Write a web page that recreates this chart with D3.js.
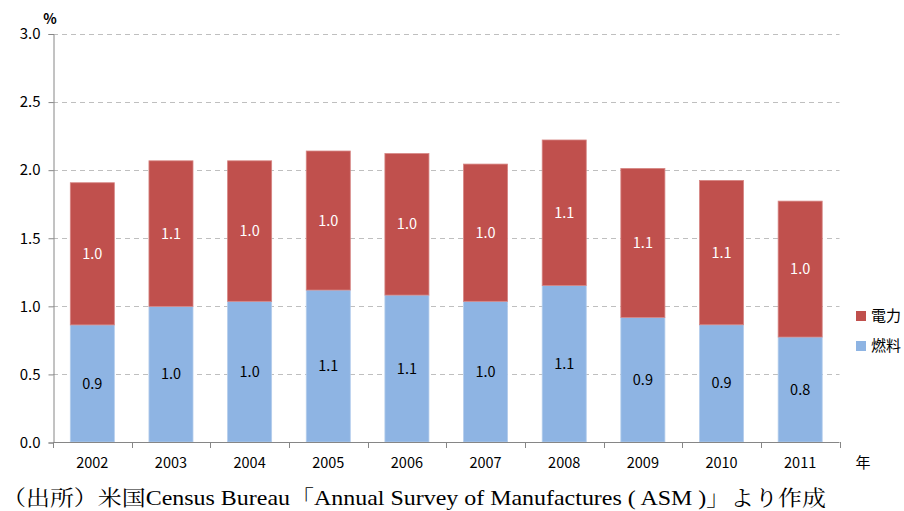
<!DOCTYPE html>
<html><head><meta charset="utf-8">
<script src="https://cdn.jsdelivr.net/npm/d3@7"></script>
<style>
body{margin:0;background:#fff;}
svg{display:block;}
</style></head>
<body>
<svg id="chart" width="904" height="511"></svg>
<script>
const years = ["2002","2003","2004","2005","2006","2007","2008","2009","2010","2011"];
const fuel = [0.86, 0.996, 1.033, 1.116, 1.079, 1.033, 1.149, 0.915, 0.861, 0.771];
const power = [1.044, 1.069, 1.032, 1.021, 1.039, 1.008, 1.069, 1.094, 1.060, 0.998];
const yTicks = [0, 0.5, 1.0, 1.5, 2.0, 2.5, 3.0];
const seriesNames = ["燃料", "電力"];
const colors = ["#8EB4E3", "#C0504D"];
const strokeColors = ["#B4CDEC", "#D68583"];
const labelColors = ["#000", "#fff"];

const svg = d3.select("#chart");
const fontJP = "'Noto Sans CJK JP','Noto Sans',sans-serif";
const margin = {left: 53, right: 64.5, top: 33.5, bottom: 69};
const W = 904, H = 511;
const x = d3.scaleBand().domain(years).range([margin.left, W - margin.right]).paddingInner(0.44).paddingOuter(0.22);
const y = d3.scaleLinear().domain([0, 3]).range([H - margin.bottom, margin.top]);

// grid lines
svg.append("g").selectAll("line").data(yTicks.filter(d => d > 0)).join("line")
  .attr("x1", margin.left).attr("x2", W - margin.right)
  .attr("y1", d => Math.round(y(d)) + 0.5).attr("y2", d => Math.round(y(d)) + 0.5)
  .attr("stroke", "#BFBFBF").attr("stroke-width", 1).attr("stroke-dasharray", "5,4");

// stacked data
const rows = years.map((yr, i) => ({year: yr, fuel: fuel[i], power: power[i]}));
const stack = d3.stack().keys(["fuel", "power"])(rows);

const g = svg.append("g");
stack.forEach((layer, li) => {
  g.append("g").selectAll("rect").data(layer).join("rect")
    .attr("x", d => x(d.data.year))
    .attr("width", x.bandwidth())
    .attr("y", d => y(d[1]))
    .attr("height", d => y(d[0]) - y(d[1]))
    .attr("fill", colors[li])
    .attr("stroke", strokeColors[li]).attr("stroke-width", 0.8);
  g.append("g").selectAll("text").data(layer).join("text")
    .attr("x", d => x(d.data.year) + x.bandwidth() / 2)
    .attr("y", d => (y(d[0]) + y(d[1])) / 2)
    .attr("dy", "0.35em")
    .attr("text-anchor", "middle")
    .attr("font-family", fontJP)
    .attr("font-size", 14.5)
    .attr("fill", labelColors[li])
    .text(d => d3.format(".1f")(d[1] - d[0]));
});

// y axis
const yAxis = d3.axisLeft(y).tickValues(yTicks).tickFormat(d3.format(".1f")).tickSize(5).tickPadding(8);
const ya = svg.append("g").attr("transform", `translate(${margin.left + 0.5},0.5)`).call(yAxis);
ya.select(".domain").attr("stroke", "#868686");
ya.selectAll(".tick line").attr("stroke", "#868686");
ya.selectAll(".tick text").attr("font-family", fontJP).attr("font-size", 15).attr("fill", "#000");

// x axis
const xBase = y(0);
svg.append("line").attr("x1", margin.left).attr("x2", W - margin.right)
  .attr("y1", xBase + 0.5).attr("y2", xBase + 0.5).attr("stroke", "#868686");
const bounds = d3.range(years.length + 1).map(i => margin.left + i * (W - margin.right - margin.left) / years.length);
svg.append("g").selectAll("line").data(bounds).join("line")
  .attr("x1", d => Math.round(d) + 0.5).attr("x2", d => Math.round(d) + 0.5)
  .attr("y1", xBase).attr("y2", xBase + 6).attr("stroke", "#868686");
svg.append("g").selectAll("text").data(years).join("text")
  .attr("x", d => x(d) + x.bandwidth() / 2)
  .attr("y", xBase + 21)
  .attr("dy", "0.35em")
  .attr("text-anchor", "middle")
  .attr("font-family", fontJP).attr("font-size", 14.5).attr("fill", "#000")
  .text(d => d);

// unit labels
svg.append("text").attr("x", 50).attr("y", 24).attr("text-anchor", "middle")
  .attr("font-family", fontJP).attr("font-size", 14).attr("font-weight", "bold").text("%");
svg.append("text").attr("x", 863).attr("y", xBase + 21).attr("dy", "0.35em").attr("text-anchor", "middle")
  .attr("font-family", fontJP).attr("font-size", 15).text("年");

// legend
const legend = [{name: seriesNames[1], color: colors[1]}, {name: seriesNames[0], color: colors[0]}];
const lg = svg.append("g").attr("transform", "translate(856,311)");
legend.forEach((d, i) => {
  const row = lg.append("g").attr("transform", `translate(0,${i * 30})`);
  row.append("rect").attr("x", 0).attr("y", 0).attr("width", 10).attr("height", 10).attr("fill", d.color);
  row.append("text").attr("x", 15).attr("y", 5).attr("dy", "0.35em")
    .attr("font-family", fontJP).attr("font-size", 15).text(d.name);
});

// source
svg.append("text").attr("x", 2).attr("y", 505)
  .attr("font-family", "'Liberation Serif','Noto Serif CJK JP','Noto Sans CJK JP',serif")
  .attr("font-size", 21).attr("textLength", 824).attr("lengthAdjust", "spacingAndGlyphs")
  .text("（出所）米国Census Bureau「Annual Survey of Manufactures ( ASM )」より作成");
</script>
</body></html>
